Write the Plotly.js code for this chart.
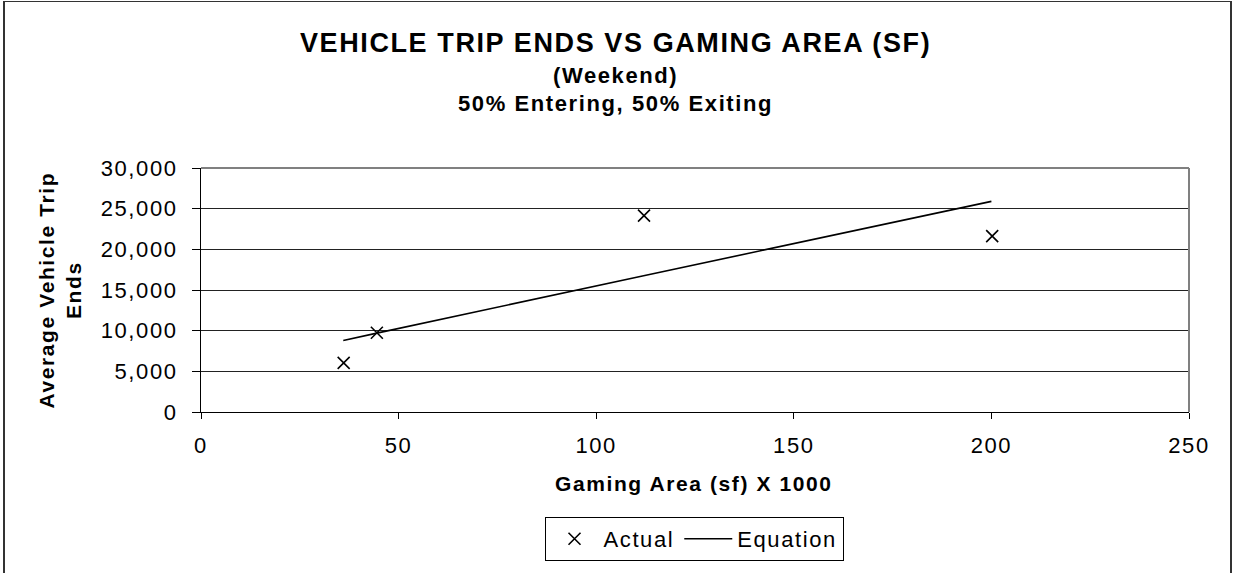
<!DOCTYPE html>
<html>
<head>
<meta charset="utf-8">
<script src="https://cdn.plot.ly/plotly-3.0.1.min.js"></script>
<style>
  html, body { margin: 0; padding: 0; background: #fff; }
  #wrap { position: relative; width: 1233px; height: 573px; overflow: hidden; }
  #chart { position: absolute; left: 0; top: 0; width: 1233px; height: 573px; }
  #frame {
    position: absolute; left: 3px; top: 1px; width: 1225px; height: 600px;
    border-left: 2px solid #333; border-top: 1px solid #333; border-right: 2px solid #333;
    pointer-events: none;
  }
  text { letter-spacing: 1.6px; }
</style>
</head>
<body>
<div id="wrap">
  <div id="chart"></div>
  <div id="frame"></div>
</div>
<script>
// Gaming area (thousands of sq ft) and observed weekend vehicle trip ends
const actualArea  = [36.1, 44.5, 112.1, 200.2];
const actualTrips = [6040, 9750, 24150, 21630];

// Fitted equation, evaluated at the study sites
const equationArea  = [36, 44.5, 112, 200];
const equationTrips = [8800, 9700, 16750, 25900];

const xTicks = [0, 50, 100, 150, 200, 250];
const yTicks = [0, 5000, 10000, 15000, 20000, 25000, 30000];

const FONT = 'Arial, "Liberation Sans", sans-serif';

const traces = [
  {
    name: 'Actual',
    x: actualArea,
    y: actualTrips,
    mode: 'markers',
    type: 'scatter',
    marker: { symbol: 'x-thin-open', size: 12, color: '#000', line: { color: '#000', width: 1.6 } }
  },
  {
    name: 'Equation',
    x: equationArea,
    y: equationTrips,
    mode: 'lines',
    type: 'scatter',
    line: { color: '#000', width: 1.6 }
  }
];

const layout = {
  width: 1233,
  height: 573,
  margin: { l: 201, r: 44, t: 168, b: 151 },
  paper_bgcolor: '#fff',
  plot_bgcolor: '#fff',
  font: { family: FONT, color: '#000', size: 22 },
  showlegend: true,
  legend: {
    orientation: 'h',
    x: 0.499, xanchor: 'center',
    y: -0.43, yanchor: 'top',
    itemwidth: 48,
    bordercolor: '#000', borderwidth: 1,
    font: { family: FONT, size: 22, color: '#000' },
    bgcolor: '#fff'
  },
  xaxis: {
    range: [0, 250],
    tickvals: xTicks,
    ticks: 'outside', ticklen: 6, tickcolor: '#000', tickwidth: 1,
    ticklabelstandoff: 8,
    showline: true, linecolor: '#000', linewidth: 1,
    showgrid: false, zeroline: false,
    tickfont: { family: FONT, size: 22, color: '#000' },
    fixedrange: true
  },
  yaxis: {
    range: [0, 30000],
    tickvals: yTicks,
    tickformat: ',d',
    ticks: 'outside', ticklen: 8, tickcolor: '#000', tickwidth: 1,
    ticklabelstandoff: 10,
    showline: true, linecolor: '#000', linewidth: 1,
    showgrid: true, gridcolor: '#222', gridwidth: 1,
    zeroline: false,
    tickfont: { family: FONT, size: 22, color: '#000' },
    fixedrange: true
  },
  shapes: [
    { type: 'line', xref: 'paper', yref: 'paper', x0: 0, x1: 1, y0: 1, y1: 1, line: { color: '#808080', width: 2 } },
    { type: 'line', xref: 'paper', yref: 'paper', x0: 1, x1: 1, y0: 0, y1: 1, line: { color: '#808080', width: 2 } }
  ],
  annotations: [
    { text: '<b>VEHICLE TRIP ENDS VS GAMING AREA (SF)</b>', xref: 'paper', yref: 'paper',
      x: 0.42, y: 1.512, xanchor: 'center', yanchor: 'middle', showarrow: false,
      font: { family: FONT, size: 27, color: '#000' } },
    { text: '<b>(Weekend)</b>', xref: 'paper', yref: 'paper',
      x: 0.42, y: 1.378, xanchor: 'center', yanchor: 'middle', showarrow: false,
      font: { family: FONT, size: 22, color: '#000' } },
    { text: '<b>50% Entering, 50% Exiting</b>', xref: 'paper', yref: 'paper',
      x: 0.42, y: 1.264, xanchor: 'center', yanchor: 'middle', showarrow: false,
      font: { family: FONT, size: 22, color: '#000' } },
    { text: '<b>Gaming Area (sf) X 1000</b>', xref: 'paper', yref: 'paper',
      x: 0.4985, y: -0.292, xanchor: 'center', yanchor: 'middle', showarrow: false,
      font: { family: FONT, size: 21, color: '#000' } },
    { text: '<b>Average Vehicle Trip<br>Ends</b>', xref: 'paper', yref: 'paper',
      x: -0.1432, y: 0.5, xanchor: 'center', yanchor: 'middle', showarrow: false,
      textangle: -90,
      font: { family: FONT, size: 21, color: '#000' } }
  ]
};

Plotly.newPlot('chart', traces, layout, { displayModeBar: false, staticPlot: true });
</script>
</body>
</html>
